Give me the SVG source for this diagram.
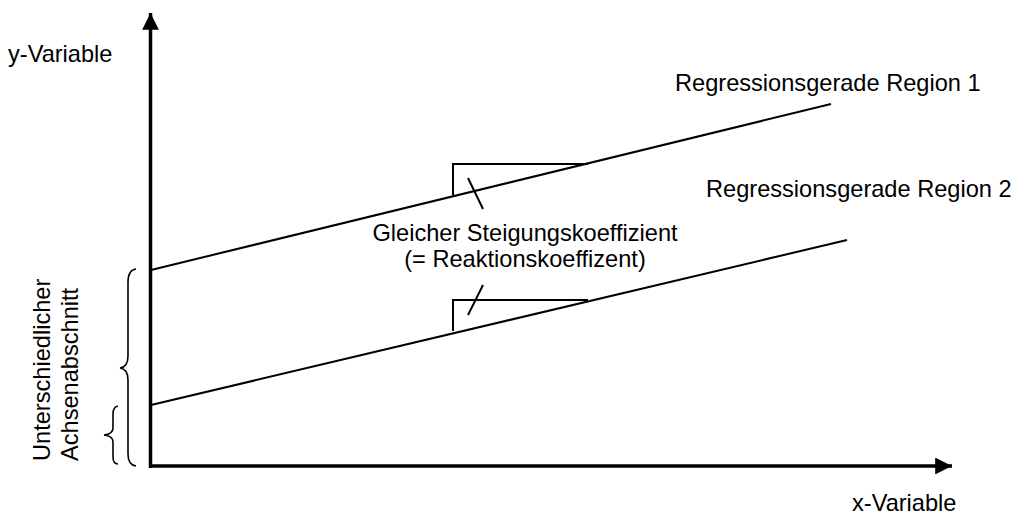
<svg xmlns="http://www.w3.org/2000/svg" width="1019" height="515" viewBox="0 0 1019 515">
  <style>
    text { font-family: "Liberation Sans", Arial, sans-serif; font-size: 23.6px; fill: #000; }
    .axis { stroke: #000; stroke-width: 3.5; fill: none; }
    .reg { stroke: #000; stroke-width: 2; fill: none; }
    .slope { stroke: #000; stroke-width: 2; fill: none; }
    .brace { stroke: #000; stroke-width: 1.6; fill: none; }
  </style>
  <defs>
    <marker id="arrow" viewBox="0 0 10 10" refX="10" refY="5" markerWidth="4.8" markerHeight="4.8" markerUnits="strokeWidth" orient="auto">
      <path d="M0,0 L10,5 L0,10 Z" fill="#000"/>
    </marker>
  </defs>

  <rect width="1019" height="515" fill="#fff"/>

  <!-- coordinate axes -->
  <g id="axes">
    <line class="axis" x1="150.5" y1="468" x2="150.5" y2="13" marker-end="url(#arrow)"/>
    <line class="axis" x1="149" y1="466" x2="952" y2="466" marker-end="url(#arrow)"/>
  </g>

  <!-- axis labels -->
  <g id="y-label"><text x="8" y="62">y-Variable</text></g>
  <g id="x-label"><text x="852" y="511">x-Variable</text></g>

  <!-- regression lines -->
  <g id="connectors">
    <line class="reg" x1="151" y1="270" x2="831" y2="104"/>
    <line class="reg" x1="151" y1="405" x2="847" y2="240"/>
  </g>

  <g id="region1-label"><text x="675" y="91">Regressionsgerade Region 1</text></g>
  <g id="region2-label"><text x="706" y="197">Regressionsgerade Region 2</text></g>

  <!-- slope triangles with pointer ticks -->
  <g id="slope-upper">
    <path class="slope" d="M453,195 V164 H588"/>
    <line class="slope" x1="468" y1="178" x2="483" y2="209"/>
  </g>
  <g id="slope-lower">
    <path class="slope" d="M453,331 V300 H588"/>
    <line class="slope" x1="483" y1="285" x2="468" y2="315"/>
  </g>

  <g id="slope-label">
    <text x="525" y="241" text-anchor="middle">Gleicher Steigungskoeffizient</text>
    <text x="525" y="267" text-anchor="middle">(= Reaktionskoeffizent)</text>
  </g>

  <!-- intercept braces -->
  <g id="brace-large">
    <path class="brace" d="M136,269 Q128,270 128,282 V356 Q128,367 120,368 Q128,369 128,380 V454 Q128,465 136,466"/>
  </g>
  <g id="brace-small">
    <path class="brace" d="M118,406 Q113,407 113,414 V428 Q113,434 104,435 Q113,436 113,442 V457 Q113,464 118,464"/>
  </g>

  <g id="intercept-label">
    <text transform="translate(50,461) rotate(-90)">Unterschiedlicher</text>
    <text transform="translate(78,461) rotate(-90)">Achsenabschnitt</text>
  </g>
</svg>
